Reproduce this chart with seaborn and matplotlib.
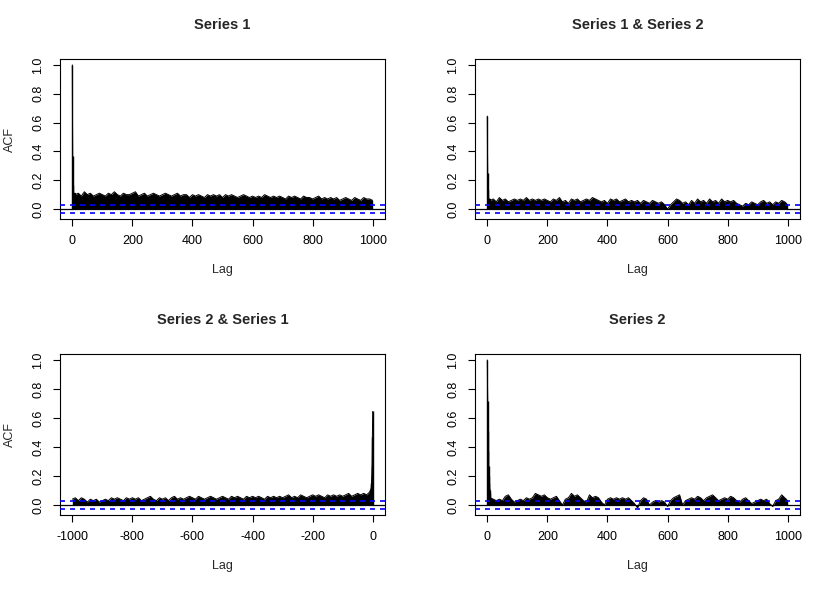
import numpy as np
import matplotlib
matplotlib.use('Agg')
import matplotlib.pyplot as plt
import seaborn as sns

# lags drawn one by one near the peak, then every 10 lags
early_lags = [0, 1, 2, 3, 4, 5, 6, 7, 8, 9]
coarse_lags = list(range(10, 1001, 10))
neg_early_lags = [-9, -8, -7, -6, -5, -4, -3, -2, -1, 0]
neg_coarse_lags = list(range(-1000, -9, 10))

acf_s1_early = [1.0, 0.37, 0.17, 0.12, 0.10, 0.11, 0.10, 0.09, 0.10, 0.11]
acf_s1 = [0.10, 0.11, 0.09, 0.12, 0.10, 0.11, 0.09, 0.10, 0.11, 0.10,
          0.09, 0.11, 0.10, 0.12, 0.10, 0.09, 0.11, 0.10, 0.10, 0.11,
          0.12, 0.09, 0.10, 0.11, 0.09, 0.10, 0.11, 0.10, 0.09, 0.10,
          0.11, 0.10, 0.09, 0.10, 0.11, 0.09, 0.10, 0.10, 0.08, 0.10,
          0.09, 0.10, 0.09, 0.08, 0.10, 0.09, 0.10, 0.09, 0.10, 0.08,
          0.10, 0.09, 0.10, 0.09, 0.08, 0.09, 0.10, 0.09, 0.08, 0.09,
          0.08, 0.09, 0.08, 0.10, 0.09, 0.08, 0.09, 0.08, 0.09, 0.08,
          0.07, 0.09, 0.08, 0.09, 0.08, 0.07, 0.09, 0.08, 0.08, 0.07,
          0.08, 0.09, 0.07, 0.08, 0.07, 0.08, 0.07, 0.08, 0.06, 0.07,
          0.08, 0.07, 0.06, 0.08, 0.07, 0.06, 0.08, 0.07, 0.07, 0.06]

acf_s12_early = [0.645, 0.25, 0.13, 0.08, 0.06, 0.05, 0.07, 0.06, 0.05, 0.07]
acf_s12 = [0.06, 0.07, 0.05, 0.08, 0.06, 0.07, 0.05, 0.06, 0.07, 0.06,
           0.07, 0.06, 0.08, 0.06, 0.07, 0.06, 0.07, 0.06, 0.07, 0.06,
           0.05, 0.07, 0.06, 0.08, 0.05, 0.06, 0.04, 0.07, 0.06, 0.07,
           0.05, 0.06, 0.07, 0.06, 0.08, 0.07, 0.06, 0.05, 0.06, 0.04,
           0.07, 0.06, 0.07, 0.05, 0.06, 0.07, 0.05, 0.06, 0.05, 0.06,
           0.04, 0.06, 0.05, 0.04, 0.06, 0.05, 0.04, 0.05, 0.03, 0.00,
           0.03, 0.05, 0.07, 0.06, 0.04, 0.05, 0.03, 0.06, 0.04, 0.07,
           0.05, 0.06, 0.04, 0.07, 0.05, 0.06, 0.04, 0.07, 0.05, 0.06,
           0.05, 0.06, 0.04, 0.03, 0.02, 0.04, 0.03, 0.05, 0.04, 0.03,
           0.05, 0.06, 0.04, 0.05, 0.03, 0.05, 0.04, 0.06, 0.05, 0.03]

acf_s21 = [0.04, 0.05, 0.03, 0.05, 0.04, 0.02, 0.04, 0.03, 0.04, 0.02,
           0.03, 0.04, 0.03, 0.05, 0.04, 0.05, 0.04, 0.03, 0.05, 0.04,
           0.05, 0.04, 0.05, 0.03, 0.04, 0.05, 0.06, 0.04, 0.03, 0.05,
           0.04, 0.05, 0.03, 0.05, 0.06, 0.04, 0.05, 0.04, 0.05, 0.06,
           0.05, 0.04, 0.06, 0.05, 0.04, 0.05, 0.06, 0.05, 0.04, 0.05,
           0.06, 0.05, 0.04, 0.06, 0.05, 0.06, 0.05, 0.04, 0.06, 0.05,
           0.06, 0.05, 0.06, 0.05, 0.04, 0.06, 0.05, 0.06, 0.05, 0.06,
           0.05, 0.06, 0.07, 0.05, 0.06, 0.05, 0.07, 0.06, 0.05, 0.06,
           0.07, 0.06, 0.07, 0.06, 0.05, 0.07, 0.06, 0.07, 0.06, 0.07,
           0.06, 0.07, 0.08, 0.06, 0.07, 0.08, 0.07, 0.08, 0.07, 0.09]
acf_s21_early = [0.09, 0.10, 0.10, 0.11, 0.12, 0.15, 0.20, 0.27, 0.47, 0.645]

acf_s2_early = [1.0, 0.72, 0.51, 0.37, 0.27, 0.20, 0.15, 0.12, 0.10, 0.08]
acf_s2 = [0.05, 0.04, 0.03, 0.04, 0.03, 0.06, 0.07, 0.04, 0.02, 0.03,
          0.04, 0.03, 0.05, 0.04, 0.05, 0.08, 0.07, 0.06, 0.07, 0.05,
          0.04, 0.05, 0.06, 0.03, 0.00, 0.04, 0.05, 0.08, 0.06, 0.07,
          0.05, 0.03, 0.02, 0.07, 0.05, 0.06, 0.05, 0.02, 0.00, 0.04,
          0.05, 0.04, 0.05, 0.04, 0.05, 0.04, 0.05, 0.03, 0.01, -0.02,
          0.03, 0.05, 0.04, 0.00, 0.02, 0.03, 0.02, 0.03, 0.02, -0.01,
          0.03, 0.05, 0.06, 0.07, 0.00, 0.03, 0.04, 0.05, 0.04, 0.06,
          0.05, 0.03, 0.05, 0.06, 0.07, 0.05, 0.03, 0.04, 0.05, 0.04,
          0.06, 0.05, 0.03, 0.02, 0.04, 0.05, 0.03, 0.01, 0.02, 0.03,
          0.04, 0.03, 0.04, 0.01, -0.01, 0.03, 0.04, 0.07, 0.05, 0.03]

titles = ['Series 1', 'Series 1 & Series 2', 'Series 2 & Series 1', 'Series 2']
conf_limit = 0.028

sns.set_style('ticks')
plt.rcParams['font.family'] = ['Liberation Sans', 'DejaVu Sans']

fig = plt.figure(figsize=(8.3, 5.9), dpi=100)
W, H = 830, 590
boxes = [(60, 59, 325, 160), (475, 59, 325, 160), (60, 354, 325, 161), (475, 354, 325, 161)]
panels = [
    (early_lags, acf_s1_early, coarse_lags, acf_s1, (-41, 1041), [0, 200, 400, 600, 800, 1000]),
    (early_lags, acf_s12_early, coarse_lags, acf_s12, (-41, 1041), [0, 200, 400, 600, 800, 1000]),
    (neg_early_lags, acf_s21_early, neg_coarse_lags, acf_s21, (-1041, 41), [-1000, -800, -600, -400, -200, 0]),
    (early_lags, acf_s2_early, coarse_lags, acf_s2, (-41, 1041), [0, 200, 400, 600, 800, 1000]),
]

for i, (box, panel, title) in enumerate(zip(boxes, panels, titles)):
    x0, y0, w, h = box
    ax = fig.add_axes([x0 / W, 1 - (y0 + h) / H, w / W, h / H])
    el, ev, cl, cv, xlim, xt = panel
    # join the fine lags and the coarse lags in lag order
    if el[0] < 0:
        lags = np.array(cl + el)
        vals = np.array(cv + ev)
    else:
        lags = np.array(el + cl)
        vals = np.array(ev + cv)
    ax.fill_between(lags, 0, vals, color='black', lw=0)
    sns.lineplot(x=lags, y=vals, ax=ax, color='black', lw=0.7, estimator=None)
    ax.vlines(el, 0, ev, color='black', lw=1.0)
    ax.axhline(0, color='black', lw=0.9)
    ax.axhline(conf_limit, color='blue', lw=1.2, ls=(0, (3, 3)), zorder=5)
    ax.axhline(-conf_limit, color='blue', lw=1.2, ls=(0, (3, 3)), zorder=5)
    ax.set_xlim(*xlim)
    ax.set_ylim(-0.069, 1.041)
    ax.set_xticks(xt)
    ax.set_xticklabels([str(t) for t in xt])
    ax.set_yticks([0.0, 0.2, 0.4, 0.6, 0.8, 1.0])
    ax.set_yticklabels(['0.0', '0.2', '0.4', '0.6', '0.8', '1.0'], rotation=90, va='center')
    ax.tick_params(length=5, width=0.8, pad=6.5, labelsize=9, colors='black')
    for s in ax.spines.values():
        s.set_visible(True)
        s.set_linewidth(0.8)
        s.set_color('black')
    ax.set_xlabel('')
    ax.set_ylabel('')
    ax.text(0.5, 1 + 34 / h, title, transform=ax.transAxes, ha='center', va='center',
            fontsize=10.5, fontweight='bold')
    ax.text(0.5, -51 / h, 'Lag', transform=ax.transAxes, ha='center', va='center', fontsize=9)
    if i % 2 == 0:
        ax.text(-50 / w, 0.5, 'ACF', transform=ax.transAxes, ha='center', va='center',
                rotation=90, fontsize=9)

fig.savefig('out.png', dpi=100)
